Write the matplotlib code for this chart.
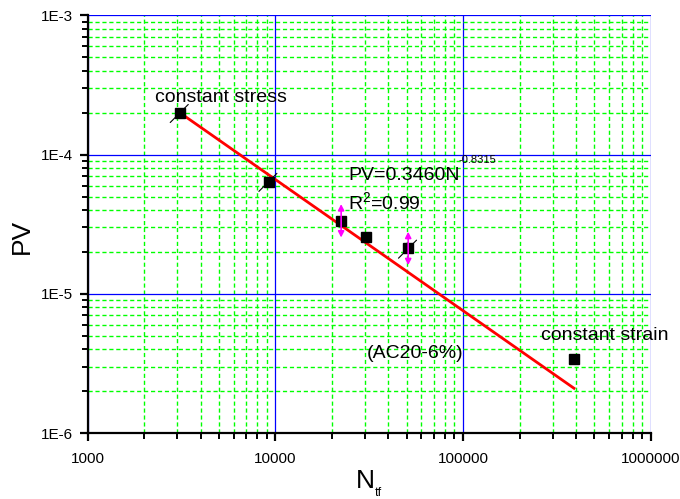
import matplotlib
matplotlib.use("Agg")
import matplotlib.pyplot as plt
from matplotlib.ticker import LogLocator, FixedLocator, FixedFormatter, NullFormatter
from matplotlib.transforms import offset_copy

plt.rcParams['font.family'] = ['Liberation Sans', 'DejaVu Sans']

# data
N_tf = [3100, 9200, 22400, 30500, 51000, 390000]
PV = [2.0e-4, 6.4e-5, 3.35e-5, 2.55e-5, 2.12e-5, 3.4e-6]
fit_N = [3100, 390000]
fit_PV = [2.0e-4, 2.1e-6]
xticks = [1000, 10000, 100000, 1000000]
xticklabels = ['1000', '10000', '100000', '1000000']
yticks = [1e-6, 1e-5, 1e-4, 1e-3]
yticklabels = ['1E-6', '1E-5', '1E-4', '1E-3']
arrow_idx = [2, 4]
slash_idx = [0, 1, 4]

fig = plt.figure(figsize=(6.8, 4.99), dpi=100)
ax = fig.add_axes([0.129, 0.132, 0.828, 0.837])
ax.set_xscale('log')
ax.set_yscale('log')
ax.set_xlim(1000, 1e6)
ax.set_ylim(1e-6, 1e-3)

ax.xaxis.set_major_locator(FixedLocator(xticks))
ax.xaxis.set_major_formatter(FixedFormatter(xticklabels))
ax.yaxis.set_major_locator(FixedLocator(yticks))
ax.yaxis.set_major_formatter(FixedFormatter(yticklabels))
ax.xaxis.set_minor_locator(LogLocator(base=10, subs=range(2, 10)))
ax.yaxis.set_minor_locator(LogLocator(base=10, subs=range(2, 10)))
ax.xaxis.set_minor_formatter(NullFormatter())
ax.yaxis.set_minor_formatter(NullFormatter())

ax.grid(which='minor', color='#00ff00', linestyle=(0, (3, 2)), linewidth=1.0)
ax.grid(which='major', color='#0000ff', linestyle='-', linewidth=0.9)
ax.set_axisbelow(True)

for s in ['top', 'right']:
    ax.spines[s].set_visible(False)
for s in ['left', 'bottom']:
    ax.spines[s].set_linewidth(1.6)
ax.tick_params(which='major', direction='out', length=5.5, width=1.6, labelsize=11, colors='black')
ax.tick_params(which='minor', direction='out', length=4.5, width=1.4)
ax.tick_params(axis='x', which='major', pad=8)
ax.tick_params(axis='y', which='major', pad=5)

ax.plot(fit_N, fit_PV, color='red', linewidth=2, zorder=3)
ax.plot(N_tf, PV, linestyle='none', marker='s', markersize=7, color='black', zorder=4)

for i in arrow_idx:
    tr_lo = offset_copy(ax.transData, fig=fig, x=0, y=-12, units='points')
    tr_hi = offset_copy(ax.transData, fig=fig, x=0, y=12, units='points')
    ax.annotate('', xy=(N_tf[i], PV[i]), xycoords=tr_lo,
                xytext=(N_tf[i], PV[i]), textcoords=tr_hi,
                arrowprops=dict(arrowstyle='<|-|>,head_length=0.35,head_width=0.18',
                                color='magenta', lw=1.2, shrinkA=0, shrinkB=0),
                zorder=5)
for i in slash_idx:
    ax.annotate('', xy=(N_tf[i], PV[i]), xytext=(-7, -7), textcoords='offset points',
                arrowprops=dict(arrowstyle='-', color='black', lw=0.8, shrinkA=0, shrinkB=0))
    ax.annotate('', xy=(N_tf[i], PV[i]), xytext=(6, 6), textcoords='offset points',
                arrowprops=dict(arrowstyle='-', color='black', lw=0.8, shrinkA=0, shrinkB=0))

fs = 14
fig.text(155/680, 1 - 98/499, 'constant stress', fontsize=fs, va='center', ha='left')
fig.text(348/680, 1 - 175/499, 'PV=0.3460N', fontsize=fs, va='center', ha='left')
fig.text(458/680, 1 - 160/499, '-0.8315', fontsize=8, va='center', ha='left')
fig.text(348/680, 1 - 203/499, r'R$^{\mathregular{2}}$=0.99', fontsize=fs, va='center', ha='left')
fig.text(367/680, 1 - 354/499, '(AC20-6%)', fontsize=fs, va='center', ha='left')
fig.text(541/680, 1 - 336/499, 'constant strain', fontsize=fs, va='center', ha='left')

fig.text(22/680, 1 - 236/499, 'PV', fontsize=19, rotation=90, va='center', ha='center')
fig.text(365/680, 1 - 481/499, 'N', fontsize=19, va='center', ha='center')
fig.text(378/680, 1 - 493/499, 'tf', fontsize=9, va='center', ha='center')

fig.savefig('out.png', dpi=100)
